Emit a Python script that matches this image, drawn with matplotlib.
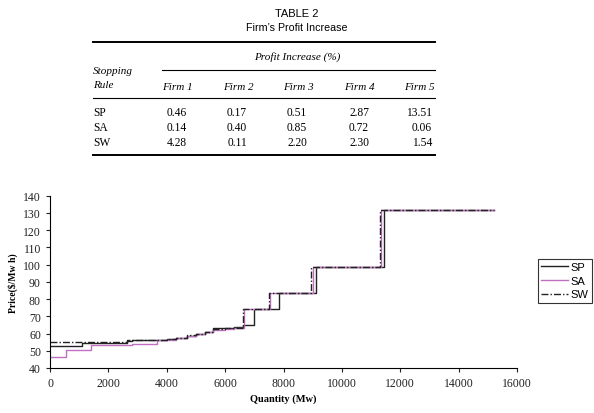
import matplotlib
matplotlib.use('Agg')
import matplotlib.pyplot as plt
from matplotlib.lines import Line2D

# table data
firms = ['Firm 1', 'Firm 2', 'Firm 3', 'Firm 4', 'Firm 5']
rules = ['SP', 'SA', 'SW']
profit = [['0.46', '0.17', '0.51', '2.87', '13.51'],
          ['0.14', '0.40', '0.85', '0.72', '0.06'],
          ['4.28', '0.11', '2.20', '2.30', '1.54']]

# supply curves (step start quantity, price)
sp_q = [0, 1100, 2650, 2800, 4000, 4300, 4700, 5000, 5300, 5600, 6000, 6300, 6600, 7000, 7850, 9100, 11450, 15200]
sp_p = [53, 54.3, 55.8, 56.5, 57, 57.5, 58.5, 60, 61, 63, 63.5, 64, 65, 74.5, 83.5, 98.5, 131.5, 131.5]
sa_q = [0, 550, 1400, 2800, 3650, 4000, 4300, 4700, 5000, 5300, 5600, 6000, 6300, 6650, 7550, 9000, 11350, 15200]
sa_p = [46.5, 50.5, 53.3, 54, 56, 56.5, 57.5, 58.5, 59.5, 61, 62, 62.5, 63.5, 74.5, 83.5, 98.5, 131.5, 131.5]
sw_q = [0, 2650, 4000, 4300, 4700, 5000, 5300, 5600, 6000, 6300, 6600, 7500, 8950, 11300, 15200]
sw_p = [55, 56.5, 57, 57.5, 59, 60, 61, 62.5, 63, 63.5, 74.5, 83.5, 98.5, 131.5, 131.5]

fig = plt.figure(figsize=(5.94, 4.14), dpi=100)

sans = 'Liberation Sans'
serif = 'Liberation Serif'

def fy(py):
    return 1 - py / 414.0

def fx(px):
    return px / 594.0

# table
fig.text(0.5, fy(14), 'TABLE 2', ha='center', va='center', family=sans, fontsize=8)
fig.text(0.5, fy(28), 'Firm\u2019s Profit Increase', ha='center', va='center', family=sans, fontsize=7.7)
fig.add_artist(Line2D([fx(93), fx(435)], [fy(43), fy(43)], color='black', lw=1.4))
fig.text(fx(297), fy(57), 'Profit Increase (%)', ha='center', va='center', family=serif, style='italic', fontsize=8)
fig.add_artist(Line2D([fx(162), fx(435)], [fy(71), fy(71)], color='black', lw=0.8))
fig.text(fx(93), fy(72), 'Stopping', ha='left', va='center', family=serif, style='italic', fontsize=8)
fig.text(fx(93), fy(86), 'Rule', ha='left', va='center', family=serif, style='italic', fontsize=8)
col_x = [177, 238, 298, 359, 435]
for i, f in enumerate(firms):
    if i == 4:
        fig.text(fx(col_x[i]), fy(87), f, ha='right', va='center', family=serif, style='italic', fontsize=8)
    else:
        fig.text(fx(col_x[i]), fy(87), f, ha='center', va='center', family=serif, style='italic', fontsize=8)
fig.add_artist(Line2D([fx(93), fx(435)], [fy(99), fy(99)], color='black', lw=0.8))
val_x = [187, 247, 307, 369, 432]
row_y = [113, 128, 143]
for r, rule in enumerate(rules):
    fig.text(fx(93), fy(row_y[r]), rule, ha='left', va='center', family=serif, fontsize=8.3)
    for c in range(5):
        fig.text(fx(val_x[c]), fy(row_y[r]), profit[r][c], ha='right', va='center', family=serif, fontsize=8.3)
fig.add_artist(Line2D([fx(93), fx(435)], [fy(156), fy(156)], color='black', lw=1.4))

# chart
ax = fig.add_axes([fx(50), fy(369), fx(517) - fx(50), fy(196.7) - fy(369)])
ax.step(sp_q, sp_p, where='post', color='#222222', lw=1.0, label='SP')
ax.step(sa_q, sa_p, where='post', color='#c070c0', lw=1.0, label='SA')
ax.step(sw_q, sw_p, where='post', color='#222222', lw=1.0, ls=(0, (5, 1.5, 1, 1.5)), label='SW')

ax.set_xlim(0, 16000)
ax.set_ylim(40, 140)
ax.set_xticks(range(0, 16001, 2000))
ax.set_yticks(range(40, 141, 10))
for s in ['top', 'right']:
    ax.spines[s].set_visible(False)
for s in ['left', 'bottom']:
    ax.spines[s].set_linewidth(0.8)
ax.tick_params(direction='out', length=3, width=0.8, labelsize=8.5, colors='#222222')
for lab in ax.get_xticklabels() + ax.get_yticklabels():
    lab.set_family(serif)
ax.set_xlabel('Quantity (Mw)', family=serif, fontweight='bold', fontsize=7.5, labelpad=3)
ax.set_ylabel('Price($/Mw h)', family=serif, fontweight='bold', fontsize=7, labelpad=4)

leg = fig.legend(loc='upper left', bbox_to_anchor=(fx(538), fy(260)), frameon=True, fancybox=False,
                 edgecolor='black', prop={'family': sans, 'size': 8}, handlelength=2.4,
                 borderpad=0.3, labelspacing=0.32, handletextpad=0.25, borderaxespad=0)
leg.get_frame().set_linewidth(0.8)

fig.savefig('out.png', dpi=100)
